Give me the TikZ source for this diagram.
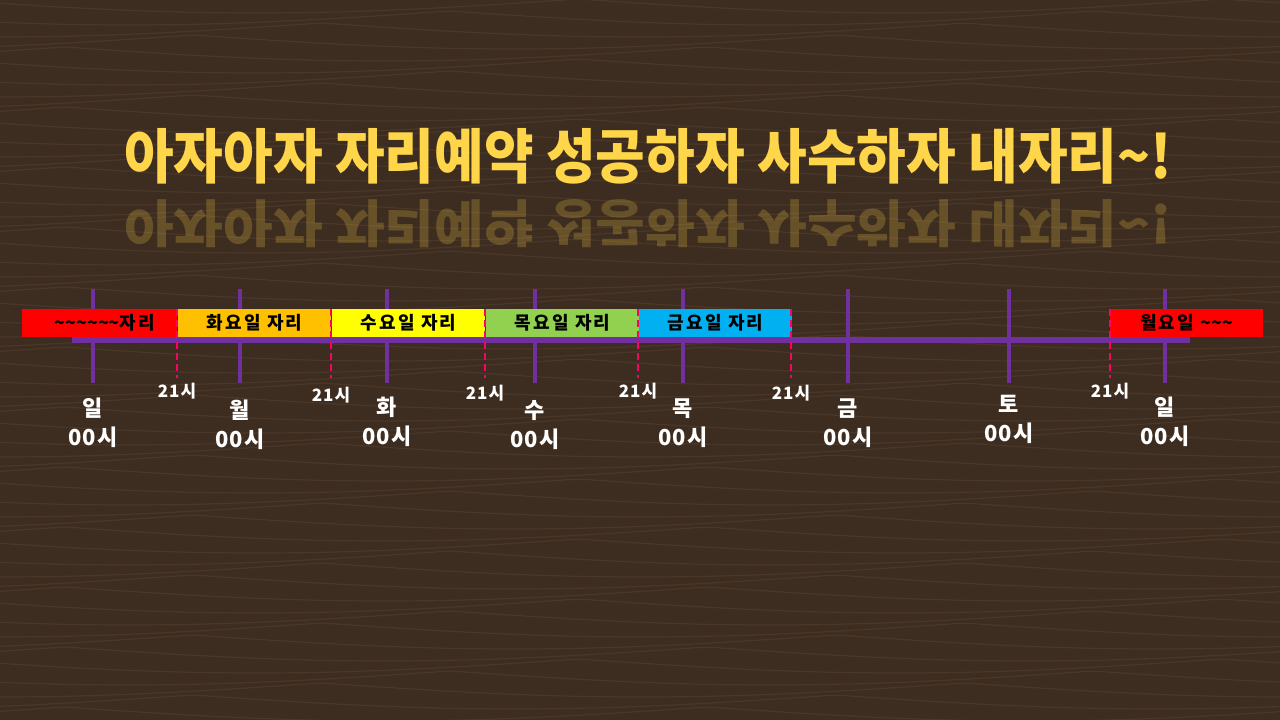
\documentclass[tikz,border=0pt]{standalone}
\usepackage{fontspec}
\newfontfamily\kr{Noto Sans CJK KR}
\newfontfamily\krwide{Noto Sans CJK KR}[LetterSpace=12]
\newfontfamily\krlbl{Noto Sans CJK KR}[LetterSpace=6]
\definecolor{bgbrown}{HTML}{3D2C20}
\definecolor{streak}{HTML}{8C6C4C}
\definecolor{tlpurple}{HTML}{7030A0}
\definecolor{cutpink}{HTML}{FF0066}
\definecolor{boxred}{HTML}{FF0000}
\definecolor{boxorange}{HTML}{FFC000}
\definecolor{boxyellow}{HTML}{FFFF00}
\definecolor{boxgreen}{HTML}{92D050}
\definecolor{boxcyan}{HTML}{00B0F0}
\definecolor{titlegold}{HTML}{FFD54A}
\tikzset{
  tickline/.style={draw=tlpurple, line width=4pt},
  mainline/.style={draw=tlpurple, line width=6pt},
  cutline/.style={draw=cutpink, line width=2.5pt, dash pattern=on 7pt off 4pt},
  daybox/.style={anchor=west, minimum height=28pt, minimum width=153pt, inner sep=0pt,
    text=black, font=\krwide\bfseries\fontsize{18}{18}\selectfont},
  hourlbl/.style={text=white, inner sep=0pt, font=\krlbl\bfseries\fontsize{17}{17}\selectfont},
  daylbl/.style={text=white, inner sep=0pt, align=center,
    font=\krlbl\bfseries\fontsize{22}{29}\selectfont},
  titletext/.style={inner sep=0pt, font=\kr\bfseries\fontsize{54}{54}\selectfont},
}
\begin{document}
\begin{tikzpicture}[x=1pt,y=-1pt]
\useasboundingbox (0,0) rectangle (1280,720);
% background wood
\fill[bgbrown] (0,0) rectangle (1280,720);
\foreach \yy in {6,18,...,714} {
  \draw[streak, opacity=0.18, line width=1.2pt]
    plot[domain=0:1280, samples=80] (\x, {\yy + 14*abs(sin(\x*0.28 + \yy*3)) - 7});
}
% title and its reflection
\node[titletext, text=titlegold, yscale=1.1] (title) at (648,156) {아자아자 자리예약 성공하자 사수하자 내자리\char`\~!};
\node[titletext, text=titlegold, opacity=0.22, yscale=-0.95] (titlerefl) at (648,224) {아자아자 자리예약 성공하자 사수하자 내자리\char`\~!};
% main timeline
\coordinate (ls) at (72,340);
\coordinate (le) at (1190,340);
\draw[mainline] (ls) -- (le);
% ticks
\foreach \n/\xx in {1/93,2/240,3/387,4/535,5/683,6/848,7/1009,8/1165} {
  \coordinate (t\n a) at (\xx,289);
  \coordinate (t\n b) at (\xx,383);
  \draw[tickline] (t\n a) -- (t\n b);
}
% boxes
\node[daybox, fill=boxred, minimum width=155pt] (b0) at (22,323) {\hspace*{10pt}{\kr\char`\~\char`\~\char`\~\char`\~\char`\~\char`\~}자리};
\node[daybox, fill=boxorange] (b1) at (178,323) {화요일 자리};
\node[daybox, fill=boxyellow] (b2) at (332,323) {수요일 자리};
\node[daybox, fill=boxgreen] (b3) at (486,323) {목요일 자리};
\node[daybox, fill=boxcyan] (b4) at (639,323) {금요일 자리};
\node[daybox, fill=boxred] (b5) at (1110,323) {월요일 {\kr\char`\~\char`\~\char`\~}};
% 21시 cut lines
\foreach \n/\xx/\ly in {1/177/391,2/331/395,3/485/393,4/638/391,5/791/393,6/1110/391} {
  \coordinate (c\n a) at (\xx,309);
  \coordinate (c\n b) at (\xx,378);
  \draw[cutline] (c\n a) -- (c\n b);
  \node[hourlbl] (h\n) at (\xx,\ly) {21시};
}
% day labels
\node[daylbl] (d1) at (93,423) {일\\00시};
\node[daylbl] (d2) at (240,425) {월\\00시};
\node[daylbl] (d3) at (387,422) {화\\00시};
\node[daylbl] (d4) at (535,425) {수\\00시};
\node[daylbl] (d5) at (683,423) {목\\00시};
\node[daylbl] (d6) at (848,423) {금\\00시};
\node[daylbl] (d7) at (1009,419) {토\\00시};
\node[daylbl] (d8) at (1165,422) {일\\00시};
\end{tikzpicture}
\end{document}
